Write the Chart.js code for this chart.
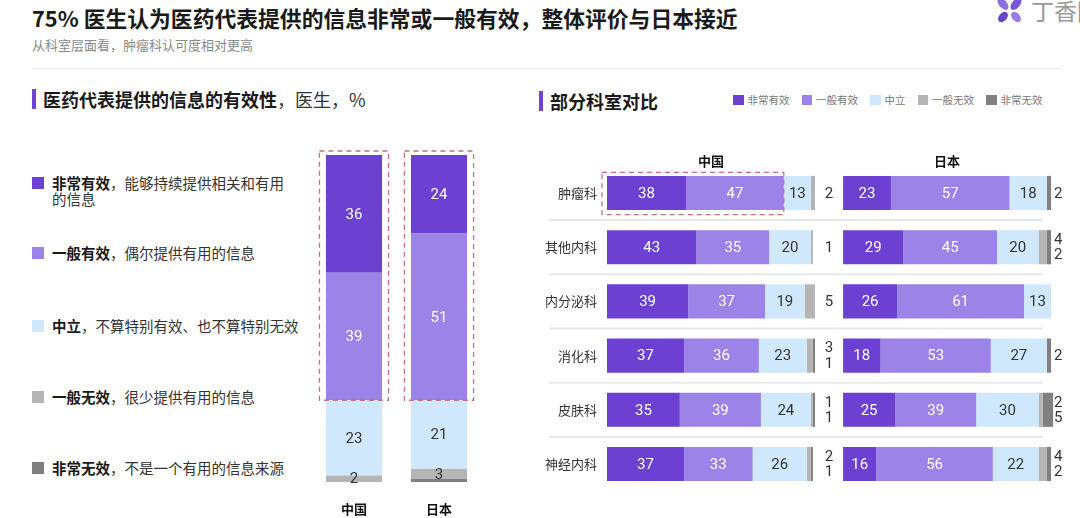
<!DOCTYPE html>
<html>
<head>
<meta charset="utf-8">
<script src="https://cdn.jsdelivr.net/npm/chart.js@4.4.1/dist/chart.umd.min.js"></script>
<style>
  html,body{margin:0;padding:0;}
  body{width:1080px;height:518px;background:#fff;position:relative;overflow:hidden;font-family:"Noto Sans CJK SC","Noto Sans",sans-serif;color:#222;}
  .abs{position:absolute;white-space:nowrap;}
  #title{left:32px;top:4px;font-size:21.8px;line-height:28px;font-weight:bold;color:#1a1a1a;}
  #subtitle{left:32px;top:37px;font-size:13px;line-height:16px;color:#8a8a8a;}
  #rule{left:32px;top:68px;width:1030px;height:1px;background:#e8e8e8;}
  .hbar{position:absolute;width:4px;height:20px;background:#6f42d2;}
  .htext{font-size:18px;line-height:22px;color:#1a1a1a;}
  .htext b{font-weight:bold;}
  .htext span{font-weight:normal;color:#333;}
  #legendL .item{position:absolute;left:32px;width:270px;font-size:14.5px;line-height:16px;color:#333;}
  #legendL .sq{position:absolute;left:0;top:2px;width:12px;height:12px;}
  #legendL .txt{position:absolute;left:20px;white-space:nowrap;}
  #legendL .txt.wrap{white-space:normal;width:236px;}
  #legendL .txt b{color:#1a1a1a;}
  #legendR{left:733px;top:94px;display:flex;gap:12px;font-size:10.5px;line-height:12px;color:#777;}
  #legendR .it{display:flex;align-items:center;}
  #legendR .sq{width:10.5px;height:10.5px;margin-right:4px;}
  #logoText{left:1031px;top:-4px;font-size:23px;line-height:28px;color:#9a9a9a;}
  canvas{position:absolute;}
</style>
</head>
<body>
<div id="title" class="abs">75% 医生认为医药代表提供的信息非常或一般有效，整体评价与日本接近</div>
<div id="subtitle" class="abs">从科室层面看，肿瘤科认可度相对更高</div>
<div id="rule" class="abs"></div>
<svg class="abs" style="left:995px;top:-2px;" width="30" height="26" viewBox="0 0 30 26">
  <ellipse cx="8" cy="6" rx="4" ry="7" transform="rotate(-40 8 6)" fill="#8c6ee0"/>
  <ellipse cx="21" cy="6" rx="4" ry="7" transform="rotate(40 21 6)" fill="#7a55d8"/>
  <ellipse cx="8" cy="19" rx="4" ry="6" transform="rotate(40 8 19)" fill="#6a44cf"/>
  <ellipse cx="21" cy="19" rx="4" ry="6" transform="rotate(-40 21 19)" fill="#9a80e6"/>
</svg>
<div id="logoText" class="abs">丁香园</div>

<div class="hbar" style="left:32px;top:89px;"></div>
<div class="abs htext" style="left:43px;top:88px;"><b>医药代表提供的信息的有效性</b><span>，医生，%</span></div>
<div class="hbar" style="left:539px;top:91px;"></div>
<div class="abs htext" style="left:550px;top:90px;"><b>部分科室对比</b></div>

<div id="legendL"></div>
<div id="legendR" class="abs"></div>

<canvas id="leftChart" width="220" height="378" style="left:290px;top:140px;"></canvas>
<canvas id="rightChart" width="540" height="378" style="left:540px;top:140px;"></canvas>

<script>
// ---------- data ----------
const levels = ['非常有效', '一般有效', '中立', '一般无效', '非常无效'];
const levelNotes = ['能够持续提供相关和有用的信息', '偶尔提供有用的信息', '不算特别有效、也不算特别无效', '很少提供有用的信息', '不是一个有用的信息来源'];
const levelColors = ['#6c40d0', '#9b83e8', '#cfe8fb', '#b5b5b5', '#808080'];

const countries = ['中国', '日本'];
const overallVeryEffective = [36, 24];
const overallEffective = [39, 51];
const overallNeutral = [23, 21];
const overallIneffective = [2, 3];
const overallVeryIneffective = [0, 1];

const departments = ['肿瘤科', '其他内科', '内分泌科', '消化科', '皮肤科', '神经内科'];
const cnVeryEffective = [38, 43, 39, 37, 35, 37];
const cnEffective = [47, 35, 37, 36, 39, 33];
const cnNeutral = [13, 20, 19, 23, 24, 26];
const cnIneffective = [2, 1, 5, 3, 1, 2];
const cnVeryIneffective = [0, 0, 0, 1, 1, 1];
const jpVeryEffective = [23, 29, 26, 18, 25, 16];
const jpEffective = [57, 45, 61, 53, 39, 56];
const jpNeutral = [18, 20, 13, 27, 30, 22];
const jpIneffective = [0, 4, 0, 0, 2, 4];
const jpVeryIneffective = [2, 2, 0, 2, 5, 2];

// ---------- HTML legends ----------
const legendTops = [175, 245, 318, 389, 460];
const legL = document.getElementById('legendL');
levels.forEach((lv, i) => {
  const d = document.createElement('div');
  d.className = 'item';
  d.style.top = legendTops[i] + 'px';
  d.innerHTML = '<div class="sq" style="background:' + levelColors[i] + '"></div><div class="txt' + (i === 0 ? ' wrap' : '') + '"><b>' + lv + '</b>，' + levelNotes[i] + '</div>';
  legL.appendChild(d);
});
const legR = document.getElementById('legendR');
levels.forEach((lv, i) => {
  const d = document.createElement('div');
  d.className = 'it';
  d.innerHTML = '<div class="sq" style="background:' + levelColors[i] + '"></div><span>' + lv + '</span>';
  legR.appendChild(d);
});

const CJK = '"Noto Sans CJK SC", "Noto Sans", sans-serif';
const NUM = 'Roboto, "Noto Sans", sans-serif';
const labelColors = ['#ffffff', '#ffffff', '#333333', '#333333', '#333333'];

// ---------- plugins ----------
const innerLabels = {
  id: 'innerLabels',
  afterDatasetsDraw(chart) {
    const ctx = chart.ctx;
    ctx.save();
    ctx.font = '15px ' + NUM;
    ctx.textAlign = 'center';
    ctx.textBaseline = 'middle';
    chart.data.datasets.forEach((ds, di) => {
      if (!ds.showInner) return;
      const meta = chart.getDatasetMeta(di);
      meta.data.forEach((el, i) => {
        const v = ds.data[i];
        if (v < ds.minLabel) return;
        const p = el.getCenterPoint();
        ctx.fillStyle = ds.labelColor;
        ctx.fillText(String(v), p.x, p.y + 1);
      });
    });
    ctx.restore();
  }
};

function dashedRect(ctx, x1, y1, x2, y2) {
  ctx.save();
  ctx.strokeStyle = '#c86f7c';
  ctx.lineWidth = 1.3;
  ctx.setLineDash([5, 4]);
  ctx.strokeRect(x1, y1, x2 - x1, y2 - y1);
  ctx.restore();
}

const leftBoxes = {
  id: 'leftBoxes',
  afterDatasetsDraw(chart) {
    const ctx = chart.ctx;
    const topMeta = chart.getDatasetMeta(4);   // 非常有效
    const midMeta = chart.getDatasetMeta(3);   // 一般有效
    topMeta.data.forEach((el, i) => {
      const mid = midMeta.data[i];
      dashedRect(ctx, el.x - el.width / 2 - 6.5, el.y - 4, el.x + el.width / 2 + 6.5, mid.base);
    });
  }
};

const rightDecor = {
  id: 'rightDecor',
  beforeDatasetsDraw(chart) {
    const {ctx, scales: {y}} = chart;
    ctx.save();
    ctx.strokeStyle = '#e8e8e8';
    ctx.lineWidth = 2;
    for (let i = 0; i < departments.length - 1; i++) {
      const yy = (y.getPixelForValue(i) + y.getPixelForValue(i + 1)) / 2;
      ctx.beginPath();
      ctx.moveTo(9, yy);
      ctx.lineTo(503, yy);
      ctx.stroke();
    }
    ctx.restore();
  },
  afterDatasetsDraw(chart) {
    const {ctx, scales: {x, x2, y}} = chart;
    ctx.save();
    // column headers
    ctx.font = 'bold 13px ' + CJK;
    ctx.fillStyle = '#111';
    ctx.textAlign = 'center';
    ctx.textBaseline = 'middle';
    ctx.fillText(countries[0], x.getPixelForValue(50), 21);
    ctx.fillText(countries[1], x2.getPixelForValue(50), 21);
    // small outside labels
    ctx.font = '15px ' + NUM;
    ctx.fillStyle = '#333';
    departments.forEach((d, i) => {
      const yc = y.getPixelForValue(i);
      const draw = (vals, xp, align) => {
        const v = vals.filter(n => n > 0);
        ctx.textAlign = align;
        if (v.length === 1) ctx.fillText(String(v[0]), xp, yc + 1);
        if (v.length === 2) {
          ctx.fillText(String(v[0]), xp, yc - 7);
          ctx.fillText(String(v[1]), xp, yc + 8.5);
        }
      };
      draw([cnIneffective[i], cnVeryIneffective[i]], x.getPixelForValue(100) + 14, 'center');
      draw([jpIneffective[i], jpVeryIneffective[i]], x2.getPixelForValue(100) + 3, 'left');
    });
    ctx.restore();
    // highlight box around 肿瘤科 China effective share
    const m0 = chart.getDatasetMeta(0).data[0];
    const m1 = chart.getDatasetMeta(1).data[0];
    dashedRect(ctx, m0.base - 5, m0.y - m0.height / 2 - 3.5, m1.x, m0.y + m0.height / 2 + 4.5);
  }
};

// ---------- left chart ----------
const overallSeries = [overallVeryEffective, overallEffective, overallNeutral, overallIneffective, overallVeryIneffective];
const leftDatasets = [];
for (let k = 4; k >= 0; k--) {
  leftDatasets.push({
    label: levels[k],
    data: overallSeries[k],
    backgroundColor: levelColors[k],
    borderWidth: 0,
    categoryPercentage: 1,
    barPercentage: 0.66,
    showInner: true,
    minLabel: 2,
    labelColor: labelColors[k]
  });
}
new Chart(document.getElementById('leftChart'), {
  type: 'bar',
  data: {labels: countries, datasets: leftDatasets},
  options: {
    responsive: false,
    animation: false,
    devicePixelRatio: 1,
    layout: {padding: {left: 21.5, right: 28.5, top: 15, bottom: 0}},
    plugins: {legend: {display: false}, tooltip: {enabled: false}},
    scales: {
      x: {
        stacked: true,
        grid: {display: false, drawTicks: false},
        border: {display: false},
        ticks: {padding: 19, color: '#111', font: {family: CJK, size: 13, weight: 'bold'}},
        afterFit(s) { s.height = 36; }
      },
      y: {stacked: true, display: false, min: 0, max: 100}
    }
  },
  plugins: [innerLabels, leftBoxes]
});

// ---------- right chart ----------
const cnSeries = [cnVeryEffective, cnEffective, cnNeutral, cnIneffective, cnVeryIneffective];
const jpSeries = [jpVeryEffective, jpEffective, jpNeutral, jpIneffective, jpVeryIneffective];
const rightDatasets = [];
cnSeries.forEach((arr, k) => rightDatasets.push({
  label: '中国 ' + levels[k], data: arr, xAxisID: 'x', yAxisID: 'y', stack: 's',
  backgroundColor: levelColors[k], borderWidth: 0, categoryPercentage: 1, barPercentage: 0.63,
  showInner: k < 3, minLabel: 5, labelColor: labelColors[k]
}));
jpSeries.forEach((arr, k) => rightDatasets.push({
  label: '日本 ' + levels[k], data: arr, xAxisID: 'x2', yAxisID: 'y', stack: 's',
  backgroundColor: levelColors[k], borderWidth: 0, categoryPercentage: 1, barPercentage: 0.63,
  showInner: k < 3, minLabel: 5, labelColor: labelColors[k]
}));
new Chart(document.getElementById('rightChart'), {
  type: 'bar',
  data: {labels: departments, datasets: rightDatasets},
  options: {
    indexAxis: 'y',
    responsive: false,
    animation: false,
    devicePixelRatio: 1,
    layout: {padding: {left: 0, right: 15, top: 25.9, bottom: 26.9}},
    plugins: {legend: {display: false}, tooltip: {enabled: false}},
    scales: {
      x: {stacked: true, display: false, min: 0, max: 220.2},
      x2: {stacked: true, display: false, position: 'top', min: -113.5, max: 106.7},
      y: {
        stacked: true,
        grid: {display: false, drawTicks: false},
        border: {display: false},
        ticks: {padding: 10, color: '#333', font: {family: CJK, size: 13}},
        afterFit(s) { s.width = 67; }
      }
    }
  },
  plugins: [rightDecor, innerLabels]
});
</script>
</body>
</html>
